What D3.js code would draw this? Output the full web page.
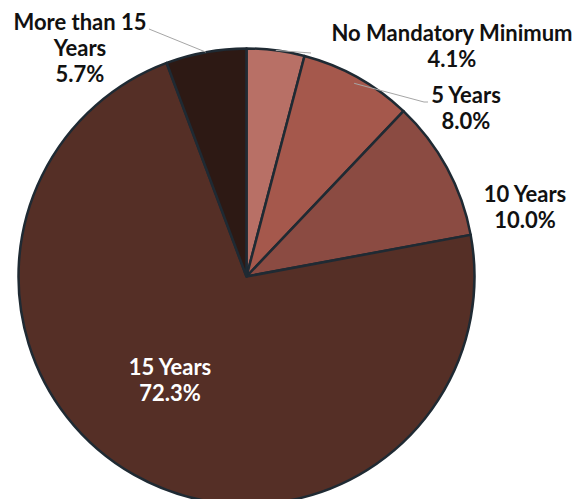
<!DOCTYPE html>
<html><head><meta charset="utf-8">
<script src="https://cdn.jsdelivr.net/npm/d3@7"></script>
<style>html,body{margin:0;padding:0;background:#fff;}svg{display:block;}</style>
</head><body>
<svg id="c" width="586" height="499"></svg>
<script>
const categories = ["No Mandatory Minimum", "5 Years", "10 Years", "15 Years", "More than 15 Years"];
const values = [4.1, 8.0, 10.0, 72.3, 5.7];
const valueLabels = ["4.1%", "8.0%", "10.0%", "72.3%", "5.7%"];
const labelLines = [["No Mandatory Minimum"], ["5 Years"], ["10 Years"], ["15 Years"], ["More than 15", "Years"]];
const colors = ["#b87066", "#a5584c", "#8b4b42", "#552f26", "#2d1914"];

const svg = d3.select("#c");
const cx = 246.5, cy = 276.5, R = 228;
const g = svg.append("g").attr("transform", `translate(${cx},${cy})`);
const pie = d3.pie().sort(null).value(d => d)(values);
const arc = d3.arc().innerRadius(0).outerRadius(R);

g.selectAll("path.s").data(pie).enter().append("path")
  .attr("d", arc).attr("fill", (d, i) => colors[i])
  .attr("stroke", "#1f2a33").attr("stroke-width", 2.5).attr("stroke-linejoin", "round");

const labelPos = [
  {x: 452, y: 40.5, fill: "#111"},
  {x: 466, y: 102.5, fill: "#111"},
  {x: 525, y: 202, fill: "#111"},
  {x: 170, y: 375, fill: "#fff"},
  {x: 80, y: 29.5, fill: "#111"}
];
const leaders = [
  {r: 1.0, end: [[311, 53]]},
  {r: 0.97, end: [[424, 102], [428, 102]]},
  null, null,
  {r: 1.0, end: [[149, 29]]}
];
leaders.forEach((L, i) => {
  if (!L) return;
  const a = (pie[i].startAngle + pie[i].endAngle) / 2;
  const p0 = [cx + R * L.r * Math.sin(a), cy - R * L.r * Math.cos(a)];
  const pts = [p0].concat(L.end);
  svg.append("path").attr("d", d3.line()(pts)).attr("fill", "none")
    .attr("stroke", "#a6a6a6").attr("stroke-width", 1);
});

const lh = 26;
pie.forEach((d, i) => {
  const lines = labelLines[i].concat([valueLabels[i]]);
  const t = svg.append("text").attr("text-anchor", "middle")
    .attr("font-family", "Lato, 'Open Sans', sans-serif").attr("font-weight", 700)
    .attr("font-size", 22).attr("fill", labelPos[i].fill);
  lines.forEach((s, k) => {
    t.append("tspan").attr("x", labelPos[i].x).attr("y", labelPos[i].y + k * lh).text(s);
  });
});
</script>
</body></html>
